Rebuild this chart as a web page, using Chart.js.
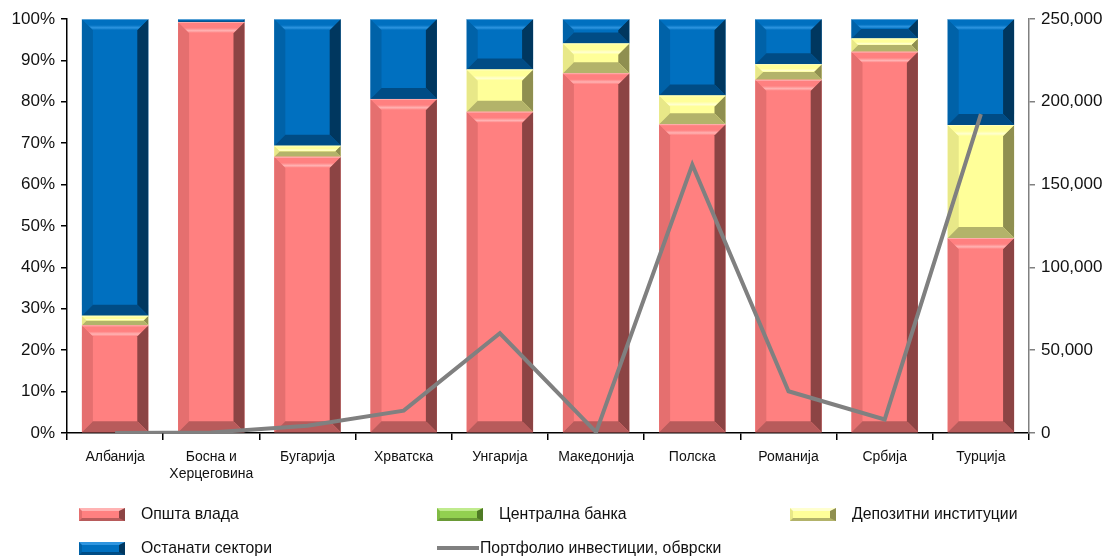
<!DOCTYPE html>
<html>
<head>
<meta charset="utf-8">
<script src="https://cdn.jsdelivr.net/npm/chart.js@4.4.1/dist/chart.umd.min.js"></script>
<style>
  html, body { margin: 0; padding: 0; background: #fff; }
  #wrap { position: relative; width: 1117px; height: 557px; overflow: hidden; }
  #chart { position: absolute; left: 0; top: 0; }
  .lg { position: absolute; font-family: "Liberation Sans", Arial, sans-serif;
        font-size: 17px; color: #111; white-space: nowrap; line-height: 18px;
        transform: scaleX(0.93); transform-origin: left center; }
  .sw { position: absolute; width: 46px; height: 13px; box-sizing: border-box; border-style: solid;
        border-width: 3px 6px 3px 3px; }
  .ln { position: absolute; width: 42px; height: 4px; background: #808080; }
</style>
</head>
<body>
<div id="wrap">
  <canvas id="chart" width="1117" height="557"></canvas>
  <div id="legend"></div>
</div>
<script>
// Countries
const categories = ["Албанија", ["Босна и", "Херцеговина"], "Бугарија", "Хрватска", "Унгарија",
                    "Македонија", "Полска", "Романија", "Србија", "Турција"];

// Shares by sector (% of total)
const generalGovernment = [26.0, 99.3, 66.7, 80.7, 77.6, 86.9, 74.6, 85.3, 92.1, 47.1];
const centralBank       = [0, 0, 0, 0, 0, 0, 0, 0, 0, 0];
const depositInstitutions = [2.3, 0, 2.7, 0, 10.2, 7.2, 6.9, 3.8, 3.2, 27.3];
const otherSectors      = [71.7, 0.7, 30.6, 19.3, 12.2, 5.9, 18.5, 10.9, 4.7, 25.6];

// Portfolio investment liabilities
const portfolioLiabilities = [0, 300, 4400, 13500, 60200, 500, 162000, 25200, 8200, 192500];

// Right-axis tick values
const rightTicks = [0, 50000, 100000, 150000, 200000, 250000];

const seriesNames = ["Општа влада", "Централна банка", "Депозитни институции", "Останати сектори",
                     "Портфолио инвестиции, обврски"];

// Palette: base face plus bevel shades
const palette = {
  red:    { face: "#FF8080", top: "#FFB3B3", left: "#E56F6F", right: "#8C4444", bottom: "#B85B5B" },
  green:  { face: "#92D050", top: "#C0EB8E", left: "#80BB44", right: "#4F7A25", bottom: "#6A9A36" },
  yellow: { face: "#FFFF99", top: "#FFFFD0", left: "#E8E888", right: "#8F8F50", bottom: "#B3B36A" },
  blue:   { face: "#0070C0", top: "#2E95E0", left: "#0062A8", right: "#00375F", bottom: "#004C85" }
};

const FONT = "'Liberation Sans', Arial, sans-serif";

// Bevelled faces drawn on top of every bar segment
const bevelPlugin = {
  id: "bevel",
  afterDatasetDraw(chart, args) {
    const meta = args.meta;
    if (meta.type !== "bar") return;
    const pal = chart.data.datasets[args.index].pal;
    const ctx = chart.ctx;
    ctx.save();
    meta.data.forEach(bar => {
      const x0 = bar.x - bar.width / 2, x1 = bar.x + bar.width / 2;
      const y0 = Math.min(bar.y, bar.base), y1 = Math.max(bar.y, bar.base);
      const h = y1 - y0;
      if (h < 0.5) return;
      const b = Math.min(11, h / 2, bar.width / 4);
      const poly = (pts, col) => {
        ctx.beginPath();
        ctx.moveTo(pts[0][0], pts[0][1]);
        for (let i = 1; i < pts.length; i++) ctx.lineTo(pts[i][0], pts[i][1]);
        ctx.closePath();
        ctx.fillStyle = col;
        ctx.fill();
      };
      poly([[x0, y0], [x0 + b, y0 + b], [x0 + b, y1 - b], [x0, y1]], pal.left);
      poly([[x1, y0], [x1 - b, y0 + b], [x1 - b, y1 - b], [x1, y1]], pal.right);
      poly([[x0, y1], [x0 + b, y1 - b], [x1 - b, y1 - b], [x1, y1]], pal.bottom);
      const g = ctx.createLinearGradient(0, y0, 0, y0 + b);
      g.addColorStop(0, pal.face);
      g.addColorStop(0.55, pal.face);
      g.addColorStop(0.8, pal.top);
      g.addColorStop(1, pal.face);
      poly([[x0, y0], [x1, y0], [x1 - b, y0 + b], [x0 + b, y0 + b]], g);
      // thin separator at the segment's top edge
      ctx.fillStyle = "rgba(255,255,255,0.35)";
      ctx.fillRect(x0, y0, x1 - x0, 1);
    });
    ctx.restore();
  }
};

function barSet(label, data, pal) {
  return { type: "bar", label, data, pal, backgroundColor: pal.face, borderWidth: 0,
           yAxisID: "y", stack: "s", order: 1,
           barPercentage: 0.69, categoryPercentage: 1.0 };
}

const chart = new Chart(document.getElementById("chart"), {
  data: {
    labels: categories,
    datasets: [
      barSet(seriesNames[0], generalGovernment, palette.red),
      barSet(seriesNames[1], centralBank, palette.green),
      barSet(seriesNames[2], depositInstitutions, palette.yellow),
      barSet(seriesNames[3], otherSectors, palette.blue),
      { type: "line", label: seriesNames[4], data: portfolioLiabilities, yAxisID: "y1",
        borderColor: "#808080", borderWidth: 4, pointRadius: 0, tension: 0, order: 0,
        borderJoinStyle: "miter", fill: false }
    ]
  },
  plugins: [bevelPlugin],
  options: {
    responsive: false,
    animation: false,
    events: [],
    layout: { padding: { top: 19, left: 0, right: 0, bottom: 0 } },
    plugins: { legend: { display: false }, tooltip: { enabled: false } },
    scales: {
      x: {
        stacked: true,
        offset: true,
        grid: { display: true, offset: true, drawOnChartArea: false, drawTicks: true,
                tickLength: 7, color: "#000", lineWidth: 1.5 },
        border: { display: true, color: "#000", width: 1.5 },
        ticks: { color: "#111", font: { family: FONT, size: 14 }, padding: 9, maxRotation: 0, autoSkip: false },
        afterFit(s) { s.height = 124; }
      },
      y: {
        stacked: true,
        min: 0, max: 100,
        position: "left",
        grid: { display: true, drawOnChartArea: false, drawTicks: true, tickLength: 6,
                color: "#000", lineWidth: 1.5 },
        border: { display: true, color: "#000", width: 1.5 },
        ticks: { stepSize: 10, color: "#111", font: { family: FONT, size: 17 }, padding: 6,
                 callback: v => v + "%" },
        afterFit(s) { s.width = 67; }
      },
      y1: {
        position: "right",
        min: 0, max: 250000,
        grid: { display: true, drawOnChartArea: false, drawTicks: true, tickLength: 6,
                color: "#808080", lineWidth: 1.5 },
        border: { display: true, color: "#808080", width: 1.5 },
        afterBuildTicks(s) { s.ticks = rightTicks.map(v => ({ value: v })); },
        ticks: { color: "#111", font: { family: FONT, size: 17 }, padding: 6,
                 callback: v => v.toLocaleString("en-US") },
        afterFit(s) { s.width = 88; }
      }
    }
  }
});

// Legend laid out in two rows beneath the plot
const legendItems = [
  { kind: "box", pal: palette.red,    text: seriesNames[0], x: 79,  y: 508 },
  { kind: "box", pal: palette.green,  text: seriesNames[1], x: 437, y: 508 },
  { kind: "box", pal: palette.yellow, text: seriesNames[2], x: 790, y: 508 },
  { kind: "box", pal: palette.blue,   text: seriesNames[3], x: 79,  y: 542 },
  { kind: "line", text: seriesNames[4], x: 437, y: 542 }
];
const lg = document.getElementById("legend");
legendItems.forEach(it => {
  if (it.kind === "box") {
    const d = document.createElement("div");
    d.className = "sw";
    d.style.left = it.x + "px"; d.style.top = it.y + "px";
    d.style.background = it.pal.face;
    d.style.borderColor = `${it.pal.top} ${it.pal.right} ${it.pal.bottom} ${it.pal.left}`;
    lg.appendChild(d);
    const t = document.createElement("div");
    t.className = "lg";
    t.style.left = (it.x + 62) + "px"; t.style.top = (it.y - 3) + "px";
    t.textContent = it.text;
    lg.appendChild(t);
  } else {
    const d = document.createElement("div");
    d.className = "ln";
    d.style.left = it.x + "px"; d.style.top = (it.y + 4) + "px";
    lg.appendChild(d);
    const t = document.createElement("div");
    t.className = "lg";
    t.style.left = (it.x + 43) + "px"; t.style.top = (it.y - 3) + "px";
    t.textContent = it.text;
    lg.appendChild(t);
  }
});
</script>
</body>
</html>
